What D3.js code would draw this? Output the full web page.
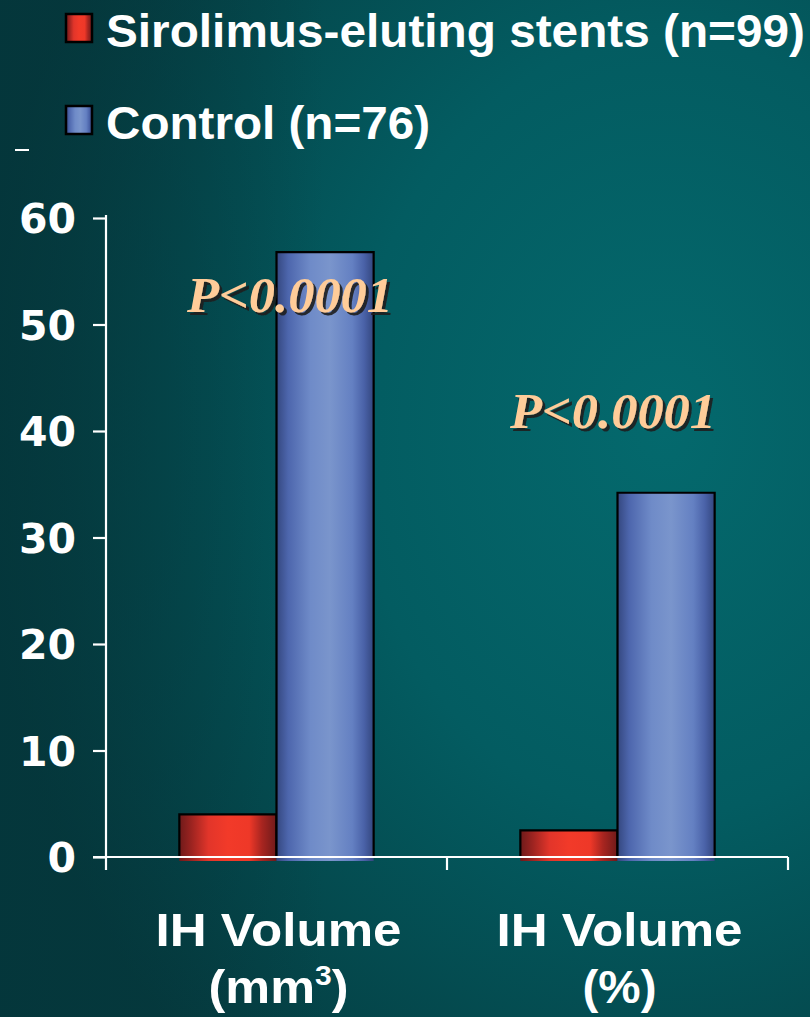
<!DOCTYPE html>
<html><head><meta charset="utf-8">
<script src="https://cdn.jsdelivr.net/npm/d3@7"></script>
<style>html,body{margin:0;padding:0;background:#044a4f;}svg{display:block;}</style>
</head><body>
<script>
const categories = ["IH Volume|(mm3)", "IH Volume|(%)"];
const seriesNames = ["Sirolimus-eluting stents (n=99)", "Control (n=76)"];
const sirolimus = [4.0, 2.5];
const control = [56.8, 34.2];
const pLabels = ["P<0.0001", "P<0.0001"];
const yTicks = [0, 10, 20, 30, 40, 50, 60];

const W = 810, H = 1017;
const svg = d3.select("body").append("svg").attr("width", W).attr("height", H);
const defs = svg.append("defs");

// background
const bg = defs.append("radialGradient").attr("id","bg").attr("cx",0.82).attr("cy",0.42).attr("r",0.85).attr("gradientUnits","objectBoundingBox");
bg.append("stop").attr("offset","0%").attr("stop-color","#04696d");
bg.append("stop").attr("offset","45%").attr("stop-color","#035c61");
bg.append("stop").attr("offset","100%").attr("stop-color","#053a3e");
svg.append("rect").attr("width",W).attr("height",H).attr("fill","url(#bg)");
const bgL = defs.append("linearGradient").attr("id","bgL").attr("x1",0).attr("x2",1).attr("y1",0).attr("y2",0);
bgL.append("stop").attr("offset","0%").attr("stop-color","#04353a").attr("stop-opacity",0.75);
bgL.append("stop").attr("offset","40%").attr("stop-color","#04353a").attr("stop-opacity",0.0);
svg.append("rect").attr("width",W).attr("height",H).attr("fill","url(#bgL)");

function cyl(id, stops){
  const g = defs.append("linearGradient").attr("id",id).attr("x1",0).attr("x2",1).attr("y1",0).attr("y2",0);
  stops.forEach(s=>g.append("stop").attr("offset",s[0]).attr("stop-color",s[1]));
}
cyl("red",[["0%","#6e1a1a"],["12%","#9a2320"],["30%","#e2352a"],["50%","#f23a29"],["72%","#ee3828"],["85%","#a82520"],["100%","#6e1a1a"]]);
cyl("blue",[["0%","#34477f"],["12%","#4d66ad"],["35%","#6f8bc8"],["55%","#7a95cc"],["78%","#6480c2"],["90%","#4a62a8"],["100%","#33467e"]]);

const shadow = defs.append("filter").attr("id","sh").attr("x","-10%").attr("y","-10%").attr("width","130%").attr("height","130%");
shadow.append("feDropShadow").attr("dx",3).attr("dy",3).attr("stdDeviation",0.6).attr("flood-color","#1a1a1a").attr("flood-opacity",0.9);

const x0 = 106, x1 = 788, yTop = 218, yBot = 857;
const x = d3.scaleBand().domain(categories).range([x0, x1]).paddingInner(0).paddingOuter(0);
const y = d3.scaleLinear().domain([0, 60]).range([yBot, yTop]);
const xs = d3.scaleBand().domain(seriesNames).range([0, x.bandwidth()]).paddingInner(0).paddingOuter(0.755);

// bars
const data = categories.map((c,i)=>({c, vals:[{s:seriesNames[0],v:sirolimus[i],f:"url(#red)"},{s:seriesNames[1],v:control[i],f:"url(#blue)"}]}));
const groups = svg.append("g").selectAll("g").data(data).join("g").attr("transform",d=>`translate(${x(d.c)},0)`);
groups.each(function(d){
  const g = d3.select(this);
  d.vals.forEach(b=>{
    const bx = xs(b.s), bw = xs.bandwidth(), top = y(b.v);
    g.append("rect").attr("x",bx).attr("y",top).attr("width",bw).attr("height",yBot+4-top).attr("fill",b.f);
    g.append("path").attr("d",`M${bx},${yBot}V${top}H${bx+bw}V${yBot}`).attr("fill","none").attr("stroke","#000").attr("stroke-width",2.2);
  });
});

// axes
const axisCol = "#ffffff";
const yAxis = svg.append("g").attr("transform",`translate(${x0},0)`)
  .call(d3.axisLeft(y).tickValues(yTicks).tickSize(13).tickPadding(17).tickFormat(d3.format("d")));
yAxis.select(".domain").attr("d",`M0,${yTop-3}V${yBot+13}`).attr("stroke",axisCol).attr("stroke-width",2.2);
yAxis.selectAll(".tick line").attr("stroke",axisCol).attr("stroke-width",2.2);
yAxis.selectAll(".tick text").attr("fill","#fff").attr("font-family","DejaVu Sans").attr("font-weight","bold").attr("font-size",41).attr("dy","0.36em");

const xAxis = svg.append("g").attr("transform",`translate(0,${yBot})`)
  .call(d3.axisBottom(x).tickSize(0).tickFormat(""));
xAxis.select(".domain").attr("d",`M${x0-13},0H${x1}`).attr("stroke",axisCol).attr("stroke-width",2.2);
const bounds = [x1, ...categories.slice(1).map(c=>x(c))];
svg.append("g").selectAll("line").data(bounds).join("line")
  .attr("x1",d=>d).attr("x2",d=>d).attr("y1",yBot).attr("y2",yBot+13).attr("stroke",axisCol).attr("stroke-width",2.2);

// category labels
const catG = svg.append("g");
categories.forEach(c=>{
  const [l1,l2] = c.split("|");
  const cx = x(c) + x.bandwidth()/2 + 2;
  catG.append("text").attr("x",cx).attr("y",946).attr("text-anchor","middle").attr("fill","#fff")
    .attr("font-family","Liberation Sans, Arial").attr("font-weight","bold").attr("font-size",47)
    .attr("textLength",246).attr("lengthAdjust","spacingAndGlyphs").text(l1);
  const t = catG.append("text").attr("x",cx).attr("y",1003).attr("text-anchor","middle").attr("fill","#fff")
    .attr("font-family","Liberation Sans, Arial").attr("font-weight","bold").attr("font-size",47);
  if (l2.indexOf("3")>=0){
    t.attr("textLength",140).attr("lengthAdjust","spacingAndGlyphs");
    t.append("tspan").text("(mm");
    t.append("tspan").attr("font-size",28).attr("dy",-18).text("3");
    t.append("tspan").attr("dy",18).text(")");
  } else {
    t.attr("textLength",74).attr("lengthAdjust","spacingAndGlyphs").text(l2);
  }
});

// p-value labels
const pPos = [{cx:290, by:312},{cx:613, by:428}];
pLabels.forEach((p,i)=>{
  svg.append("text").attr("x",pPos[i].cx).attr("y",pPos[i].by).attr("text-anchor","middle")
    .attr("font-family","Liberation Serif, Times New Roman").attr("font-style","italic").attr("font-weight","bold")
    .attr("font-size",50).attr("fill","#ffcc99").attr("filter","url(#sh)").attr("textLength",206).attr("lengthAdjust","spacingAndGlyphs").text(p);
});

// legend
const legFills = ["url(#red)","url(#blue)"];
const legY = [14, 106];
const legLen = [699, 324];
seriesNames.forEach((s,i)=>{
  svg.append("rect").attr("x",66).attr("y",legY[i]).attr("width",26).attr("height",28).attr("fill",legFills[i]).attr("stroke","#000").attr("stroke-width",2.5);
  svg.append("text").attr("x",106).attr("y",legY[i]+33).attr("fill","#fff")
    .attr("font-family","Liberation Sans, Arial").attr("font-weight","bold").attr("font-size",47)
    .attr("textLength",legLen[i]).attr("lengthAdjust","spacingAndGlyphs").text(s);
});
svg.append("line").attr("x1",15).attr("x2",29).attr("y1",150).attr("y2",150).attr("stroke","#fff").attr("stroke-width",2);
</script>
</body></html>
